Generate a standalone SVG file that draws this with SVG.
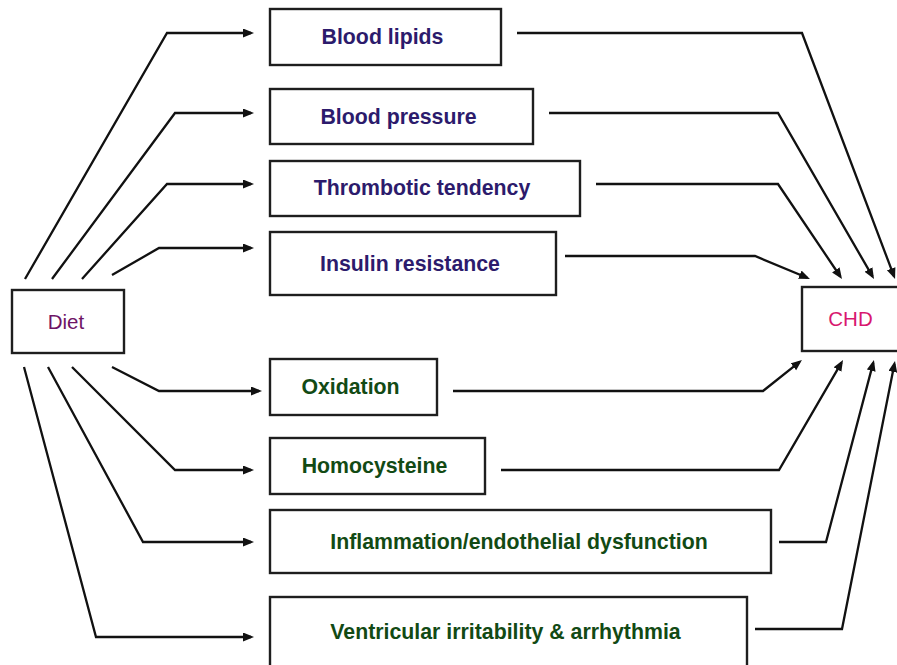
<svg xmlns="http://www.w3.org/2000/svg" width="897" height="665" viewBox="0 0 897 665">
<style>
.box{fill:#fff;stroke:#1e1e1e;stroke-width:2.4}
.lbl{font-family:"Liberation Sans",Arial,sans-serif;font-weight:bold;font-size:21.3px;text-anchor:middle}
.p{fill:#2c1b6c}
.g{fill:#124a14}
.end{font-family:"Liberation Sans",Arial,sans-serif;font-size:20.5px;text-anchor:middle}
.c{fill:none;stroke:#111;stroke-width:2.3;marker-end:url(#ah)}
</style>
<defs>
<marker id="ah" markerUnits="userSpaceOnUse" markerWidth="12" markerHeight="10" refX="8" refY="4.5" orient="auto">
<path d="M0,0 L11,4.5 L0,9 z" fill="#111"/>
</marker>
</defs>
<rect width="897" height="665" fill="#fff"/>
<g id="connectors">
<path class="c" d="M25,279 L167,33 L251,33"/>
<path class="c" d="M52,279 L175,113 L251,113"/>
<path class="c" d="M82,279 L167,184 L251,184"/>
<path class="c" d="M112,275 L159,248 L251,248"/>
<path class="c" d="M112,367 L159,391 L259,391"/>
<path class="c" d="M72,367 L175,470 L251,470"/>
<path class="c" d="M48,367 L143,542 L251,542"/>
<path class="c" d="M24,367 L96,637 L251,637"/>
<path class="c" d="M517,33 L802,33 L894,276.2"/>
<path class="c" d="M549,113 L778,113 L872.5,276.4"/>
<path class="c" d="M596,184 L778,184 L840.3,276.5"/>
<path class="c" d="M565,256 L755,256 L807.2,277.8"/>
<path class="c" d="M453,391 L763,391 L799.6,361.8"/>
<path class="c" d="M501,470 L779,470 L841.5,362.6"/>
<path class="c" d="M779,542 L826,542 L873.2,362.9"/>
<path class="c" d="M755,629 L842,629 L894.4,364"/>
</g>
<g id="diet">
<rect class="box" x="12" y="290" width="112" height="63"/>
<text class="end" x="66" y="329" fill="#6e1466">Diet</text>
</g>
<g id="chd">
<rect class="box" x="802" y="287" width="110" height="64"/>
<text class="end" x="850.5" y="326" fill="#d8186f">CHD</text>
</g>
<g id="blood-lipids">
<rect class="box" x="270" y="9" width="231" height="56"/>
<text class="lbl p" x="382.5" y="44">Blood lipids</text>
</g>
<g id="blood-pressure">
<rect class="box" x="270" y="89" width="263" height="55"/>
<text class="lbl p" x="398.5" y="124">Blood pressure</text>
</g>
<g id="thrombotic-tendency">
<rect class="box" x="270" y="161" width="310" height="55"/>
<text class="lbl p" x="422" y="195">Thrombotic tendency</text>
</g>
<g id="insulin-resistance">
<rect class="box" x="270" y="232" width="286" height="63"/>
<text class="lbl p" x="410" y="271">Insulin resistance</text>
</g>
<g id="oxidation">
<rect class="box" x="270" y="359" width="167" height="56"/>
<text class="lbl g" x="350.5" y="394">Oxidation</text>
</g>
<g id="homocysteine">
<rect class="box" x="270" y="438" width="215" height="56"/>
<text class="lbl g" x="374.5" y="473">Homocysteine</text>
</g>
<g id="inflammation">
<rect class="box" x="270" y="510" width="501" height="63"/>
<text class="lbl g" x="519" y="549">Inflammation/endothelial dysfunction</text>
</g>
<g id="ventricular">
<rect class="box" x="270" y="597" width="477" height="90"/>
<text class="lbl g" x="505.5" y="639">Ventricular irritability &amp; arrhythmia</text>
</g>
</svg>
